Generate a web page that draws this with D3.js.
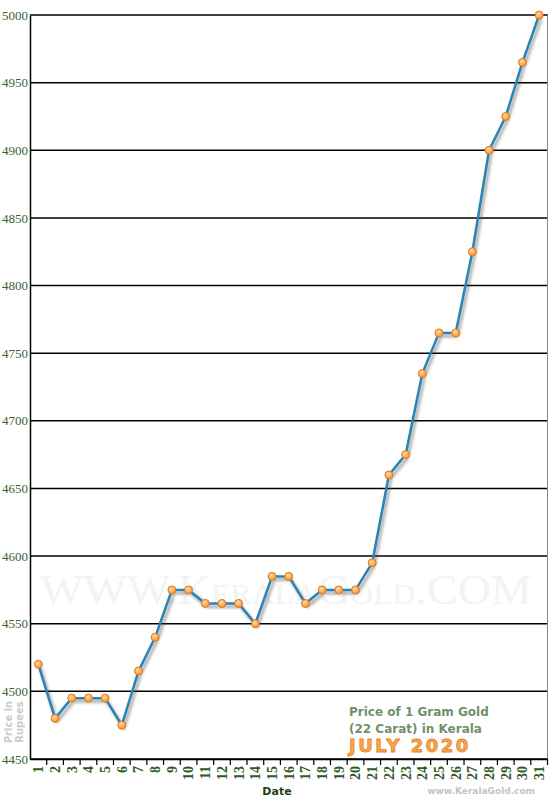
<!DOCTYPE html>
<html>
<head>
<meta charset="utf-8">
<script src="https://cdn.jsdelivr.net/npm/d3@7"></script>
<style>
  body { margin: 0; background: #fff; }
  svg { display: block; }
</style>
</head>
<body>
<script>
// data
let days = d3.range(1, 32);
let prices = [4520, 4480, 4495, 4495, 4495, 4475, 4515, 4540, 4575, 4575,
              4565, 4565, 4565, 4550, 4585, 4585, 4565, 4575, 4575, 4575,
              4595, 4660, 4675, 4735, 4765, 4765, 4825, 4900, 4925, 4965, 5000];
let yTicks = [4450, 4500, 4550, 4600, 4650, 4700, 4750, 4800, 4850, 4900, 4950, 5000];

let data = days.map(function(d, i) { return {day: d, price: prices[i]}; });

let margin = {top: 15, right: 2, bottom: 41, left: 30},
    width = 550 - margin.left - margin.right,
    height = 800 - margin.top - margin.bottom;

let x = d3.scaleBand().domain(days).range([0, width - 0.5]);
let y = d3.scaleLinear().domain([4450, 5000]).range([height, 0]);

let svg = d3.select("body").append("svg")
    .attr("width", 550)
    .attr("height", 800);

let defs = svg.append("defs");
let shadow = defs.append("filter").attr("id", "shadow")
    .attr("x", "-10%").attr("y", "-10%").attr("width", "120%").attr("height", "120%");
shadow.append("feDropShadow")
    .attr("dx", 2).attr("dy", 3).attr("stdDeviation", 1.6)
    .attr("flood-color", "#444").attr("flood-opacity", 0.55);

let grad = defs.append("radialGradient").attr("id", "dot").attr("cx", "40%").attr("cy", "35%").attr("r", "60%");
grad.append("stop").attr("offset", "0%").attr("stop-color", "#ffd9a0");
grad.append("stop").attr("offset", "100%").attr("stop-color", "#f59a3a");

// watermark
svg.append("text")
    .attr("x", 40).attr("y", 604)
    .attr("textLength", 492).attr("lengthAdjust", "spacingAndGlyphs")
    .style("font-family", "Liberation Serif")
    .style("font-size", "42px")
    .style("font-variant", "small-caps")
    .style("fill", "#f3f3f3")
    .text("WWW.KeralaGold.COM");

let context = svg.append("g")
    .attr("transform", "translate(" + margin.left + "," + margin.top + ")");

// horizontal grid lines
context.selectAll(".grid")
    .data(yTicks)
    .enter().append("line")
    .attr("x1", 0).attr("x2", width)
    .attr("y1", function(d) { return y(d); })
    .attr("y2", function(d) { return y(d); })
    .style("stroke", "#000")
    .style("stroke-width", 1.5);

// right border
context.append("line")
    .attr("x1", width - 0.5).attr("x2", width - 0.5)
    .attr("y1", 0).attr("y2", height)
    .style("stroke", "#888").style("stroke-width", 1);

// Y axis
let yAxis = context.append("g")
    .call(d3.axisLeft(y).tickValues(yTicks).tickSize(0).tickPadding(2).tickFormat(d3.format("d")));
yAxis.select(".domain").style("stroke", "#000").style("stroke-width", 1.5);
yAxis.selectAll("text")
    .style("font-family", "Liberation Serif")
    .style("font-size", "13px")
    .style("fill", "#3b6331");

// X axis
let xAxis = context.append("g")
    .attr("transform", "translate(0," + height + ")")
    .call(d3.axisBottom(x).tickSize(0).tickPadding(0));
xAxis.select(".domain").style("stroke", "#000").style("stroke-width", 1.5);
xAxis.selectAll("text")
    .attr("transform", "rotate(-90)")
    .attr("x", -7).attr("y", 0).attr("dy", "0.35em")
    .style("text-anchor", "end")
    .style("font-family", "Liberation Serif")
    .style("font-weight", "bold")
    .style("font-size", "14px")
    .style("fill", "#2f5a26");

// tick marks between days
xAxis.selectAll(".bound")
    .data(days.slice(1).concat([null]))
    .enter().append("line")
    .attr("x1", function(d) { return d === null ? width - 0.5 : x(d); })
    .attr("x2", function(d) { return d === null ? width - 0.5 : x(d); })
    .attr("y1", 0).attr("y2", 6)
    .style("stroke", "#000").style("stroke-width", 1.2);

// line
let valueline = d3.line()
    .x(function(d) { return x(d.day) + x.bandwidth() / 2; })
    .y(function(d) { return y(d.price); });

context.append("path")
    .datum(data)
    .attr("d", valueline)
    .attr("filter", "url(#shadow)")
    .style("fill", "none")
    .style("stroke", "#2a83b5")
    .style("stroke-width", 2.5)
    .style("stroke-linejoin", "round");

context.selectAll(".dot")
    .data(data)
    .enter().append("circle")
    .attr("cx", function(d) { return x(d.day) + x.bandwidth() / 2; })
    .attr("cy", function(d) { return y(d.price); })
    .attr("r", 4)
    .style("fill", "url(#dot)")
    .style("stroke", "#e0781c")
    .style("stroke-width", 1);

// axis titles
svg.append("text")
    .attr("x", 277).attr("y", 795)
    .style("text-anchor", "middle")
    .style("font-family", "DejaVu Sans")
    .style("font-weight", "bold")
    .style("font-size", "11px")
    .style("fill", "#1e3d14")
    .text("Date");

let ylab = svg.append("text")
    .attr("transform", "translate(12,722) rotate(-90)")
    .style("text-anchor", "middle")
    .style("font-family", "DejaVu Sans")
    .style("font-weight", "bold")
    .style("font-size", "10px")
    .style("fill", "#cccccc");
ylab.append("tspan").attr("x", 0).attr("y", 0).text("Price in");
ylab.append("tspan").attr("x", 0).attr("y", 11).text("Rupees");

// legend text
svg.append("text")
    .attr("x", 349).attr("y", 716)
    .style("font-family", "DejaVu Sans")
    .style("font-weight", "bold")
    .style("font-size", "12px")
    .style("fill", "#728f6b")
    .text("Price of 1 Gram Gold");
svg.append("text")
    .attr("x", 349).attr("y", 733)
    .style("font-family", "DejaVu Sans")
    .style("font-weight", "bold")
    .style("font-size", "12px")
    .style("fill", "#728f6b")
    .text("(22 Carat) in Kerala");
svg.append("text")
    .attr("x", 349).attr("y", 752)
    .style("font-family", "DejaVu Sans")
    .style("font-weight", "bold")
    .style("font-size", "18px")
    .style("letter-spacing", "2.5px")
    .style("fill", "#f8a74e")
    .style("stroke", "#e8801c")
    .style("stroke-width", 0.8)
    .text("JULY 2020");

svg.append("text")
    .attr("x", 535).attr("y", 794)
    .style("text-anchor", "end")
    .style("font-family", "DejaVu Sans")
    .style("font-weight", "bold")
    .style("font-size", "9px")
    .style("fill", "#c4c4c4")
    .text("www.KeralaGold.com");
</script>
</body>
</html>
